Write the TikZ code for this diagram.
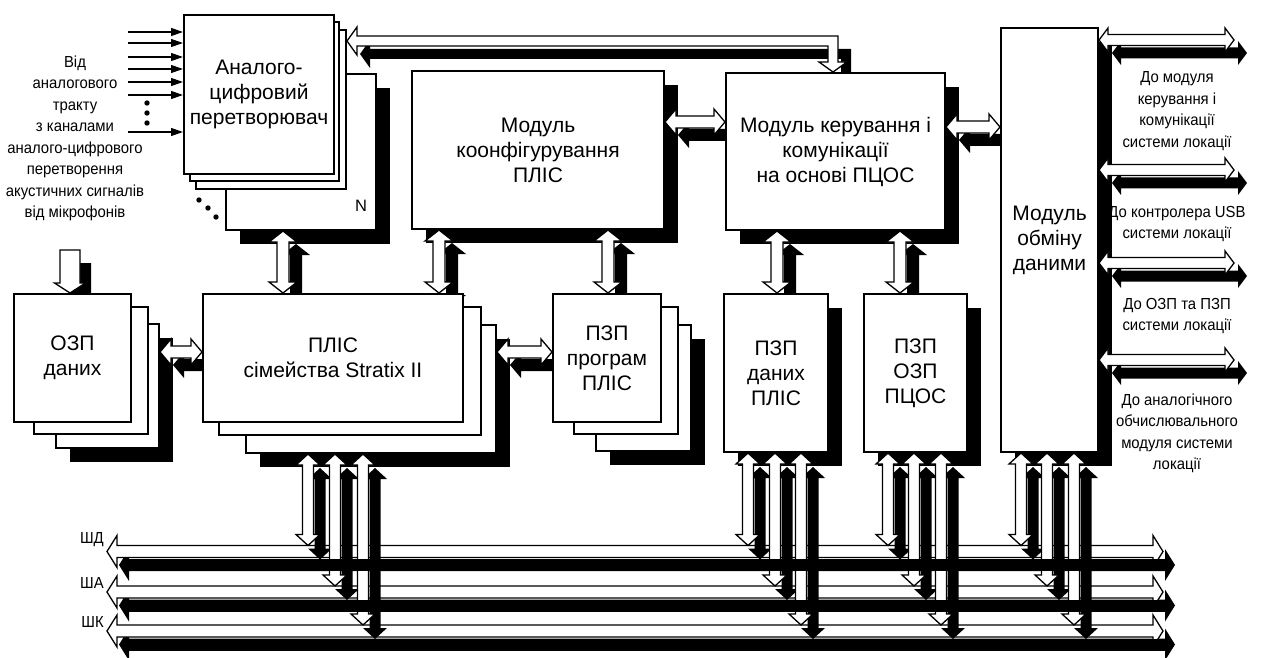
\documentclass[tikz,border=0pt]{standalone}
\usepackage{fontspec}
\setmainfont{Liberation Sans}
\newfontfamily\narrowf[FakeStretch=0.93]{Liberation Sans}
\usetikzlibrary{calc,arrows.meta,shadows}
\pgfdeclarelayer{bg}
\pgfdeclarelayer{fg}
\pgfdeclarelayer{fgtop}
\pgfsetlayers{bg,main,fg,fgtop}

\newcommand\bigf{\fontsize{21}{25}\selectfont}
\newcommand\smf{\narrowf\fontsize{16}{21.5}\selectfont}
\newcommand\onlayer[2]{\begin{pgfonlayer}{#1}#2\end{pgfonlayer}}

% #1 shaft half  #2 head half  #3 head length  #4 tip1  #5 tip2  #6 xoff  #7 yoff  #8 style
\newcommand\HDAp[8]{\path[#8] let \p1=($#4+(#6,#7)$), \p2=($#5+(#6,#7)$) in
 (\x1,\y1) -- ({\x1+#3},{\y1+#2}) -- ({\x1+#3},{\y1+#1}) -- ({\x2-#3},{\y1+#1})
 -- ({\x2-#3},{\y1+#2}) -- (\x2,\y1) -- ({\x2-#3},{\y1-#2}) -- ({\x2-#3},{\y1-#1})
 -- ({\x1+#3},{\y1-#1}) -- ({\x1+#3},{\y1-#2}) -- cycle;}
\newcommand\VDAp[8]{\path[#8] let \p1=($#4+(#6,#7)$), \p2=($#5+(#6,#7)$) in
 (\x1,\y1) -- ({\x1+#2},{\y1-#3}) -- ({\x1+#1},{\y1-#3}) -- ({\x1+#1},{\y2+#3})
 -- ({\x1+#2},{\y2+#3}) -- (\x1,\y2) -- ({\x1-#2},{\y2+#3}) -- ({\x1-#1},{\y2+#3})
 -- ({\x1-#1},{\y1-#3}) -- ({\x1-#2},{\y1-#3}) -- cycle;}
\newcommand\SDAp[8]{\path[#8] let \p1=($#4+(#6,#7)$), \p2=($#5+(#6,#7)$) in
 ({\x1-#1},\y1) -- ({\x1+#1},\y1) -- ({\x1+#1},{\y2+#3}) -- ({\x1+#2},{\y2+#3})
 -- (\x1,\y2) -- ({\x1-#2},{\y2+#3}) -- ({\x1-#1},{\y2+#3}) -- cycle;}
\newcommand\LDAp[8]{\path[#8] let \p1=($#4+(#6,#7)$), \p2=($#5+(#6,#7)$) in
 (\x1,\y1) -- ({\x1+#3},{\y1+#2}) -- ({\x1+#3},{\y1+#1}) -- ({\x2+#1},{\y1+#1})
 -- ({\x2+#1},{\y2+#3}) -- ({\x2+#2},{\y2+#3}) -- (\x2,\y2) -- ({\x2-#2},{\y2+#3})
 -- ({\x2-#1},{\y2+#3}) -- ({\x2-#1},{\y1-#1}) -- ({\x1+#3},{\y1-#1})
 -- ({\x1+#3},{\y1-#2}) -- cycle;}
\newcommand\HDA[5]{\onlayer{bg}{\HDAp{#1}{#2}{#3}{#4}{#5}{13pt}{-13pt}{shd}}\onlayer{fg}{\HDAp{#1}{#2}{#3}{#4}{#5}{0pt}{0pt}{wht}}}
\newcommand\VDA[5]{\onlayer{bg}{\VDAp{#1}{#2}{#3}{#4}{#5}{13pt}{-13pt}{shd}}\onlayer{fg}{\VDAp{#1}{#2}{#3}{#4}{#5}{0pt}{0pt}{wht}}}

\begin{document}
\begin{tikzpicture}[x=1pt,y=-1pt,
  shd/.style={fill=black},
  wht/.style={fill=white,draw=black,line width=1.3pt},
  box/.style={draw,line width=2pt,fill=white,inner sep=0pt,anchor=north west,align=center,font=\bigf},
  boxsh/.style={box,drop shadow={shadow xshift=14pt,shadow yshift=-14pt,fill=black,opacity=1}},
  note/.style={align=center,font=\smf,inner sep=0pt},
  inarr/.style={line width=1.2pt,-{Triangle[length=12pt,width=8pt]}}]
\useasboundingbox (0,0) rectangle (1267,658);
\onlayer{bg}{\fill[white] (0,0) rectangle (1267,658);}

% ---------- boxes ----------
\node[boxsh,minimum width=150pt,minimum height=156pt] (adcN) at (225,73) {};
\node[font=\fontsize{16.5}{20}\selectfont] (nlab) at (361,206) {N};
\node[box,minimum width=150pt,minimum height=159pt] (adc3) at (195,29) {};
\node[box,minimum width=149pt,minimum height=159pt] (adc2) at (189,21) {};
\node[box,minimum width=150pt,minimum height=159pt] (adc1) at (183,14) {Аналого-\\цифровий\\перетворювач};

\node[boxsh,minimum width=252pt,minimum height=158pt] (cfg) at (411,70) {Модуль\\коонфігурування\\ПЛІС};
\node[boxsh,minimum width=219pt,minimum height=157pt] (ctl) at (725,72) {Модуль керування і\\комунікації\\на основі ПЦОС};
\node[boxsh,minimum width=97pt,minimum height=424pt] (exch) at (1000,27) {Модуль\\обміну\\даними};

\node[boxsh,minimum width=103pt,minimum height=124pt] (ozp3) at (55,323) {};
\node[box,minimum width=114pt,minimum height=127pt] (ozp2) at (33,306) {};
\node[box,minimum width=117pt,minimum height=128pt] (ozp1) at (13,293) {ОЗП\\даних};

\node[boxsh,minimum width=250pt,minimum height=128pt] (plis3) at (245,324) {};
\node[box,minimum width=262pt,minimum height=128pt] (plis2) at (218,306) {};
\node[box,minimum width=260pt,minimum height=128pt] (plis1) at (202,293) {ПЛІС\\сімейства Stratix II};

\node[boxsh,minimum width=95pt,minimum height=126pt] (pzp3) at (595,324) {};
\node[box,minimum width=104pt,minimum height=127pt] (pzp2) at (573,306) {};
\node[box,minimum width=108pt,minimum height=128pt] (pzp1) at (552,293) {ПЗП\\програм\\ПЛІС};

\node[boxsh,minimum width=104pt,minimum height=158pt] (pzpd) at (723,293) {ПЗП\\даних\\ПЛІС};
\node[boxsh,minimum width=103pt,minimum height=158pt] (pzpo) at (863,293) {ПЗП\\ОЗП\\ПЦОС};

% ---------- texts ----------
\node[note] (src) at (75,138.5) {Від\\аналогового\\тракту\\з каналами\\аналого-цифрового\\перетворення\\акустичних сигналів\\від мікрофонів};
\node[note] (t1) at (1177,111) {До модуля\\керування і\\комунікації\\системи локації};
\node[note] (t2) at (1177,224) {До контролера USB\\системи локації};
\node[note] (t3) at (1177,316) {До ОЗП та ПЗП\\системи локації};
\node[note] (t4) at (1177,433.5) {До аналогічного\\обчислювального\\модуля системи\\локації};
\node[note,anchor=east] (lD) at (104,540) {ШД};
\node[note,anchor=east] (lA) at (104,583) {ША};
\node[note,anchor=east] (lK) at (104,622) {ШК};

% ---------- dots and inputs ----------
\foreach \dx/\dy in {199/200,208/208,216/217,147/103,147/113,147/123}
  \fill (\dx,\dy) circle[radius=2.7pt];
\foreach \yy [count=\i] in {32,43,57,69,82,95,132}{
  \coordinate (in\i) at (128,\yy);
  \draw[inarr] (in\i) -- (in\i -| adc1.west);}

% ---------- rails ----------
\coordinate (xa) at (283,0); \coordinate (xb) at (439,0); \coordinate (xc) at (608,0);
\coordinate (xd) at (777,0); \coordinate (xe) at (900,0); \coordinate (xo) at (70,0);
\coordinate (xl) at (833,0);
\coordinate (ya) at (0,352); \coordinate (yb) at (0,122); \coordinate (yc) at (0,127);
\coordinate (yl) at (0,41);
\coordinate (r1) at (0,40); \coordinate (r2) at (0,170); \coordinate (r3) at (0,263); \coordinate (r4) at (0,360);
\coordinate (re1) at (1234,40); \coordinate (re2) at (1234,170); \coordinate (re3) at (1234,263); \coordinate (re4) at (1234,360);
\coordinate (ozin) at (70,250);
\coordinate (b1L) at (107,551.5); \coordinate (b1R) at (1163,551.5);
\coordinate (b2L) at (107,592); \coordinate (b2R) at (1163,592);
\coordinate (b3L) at (107,631); \coordinate (b3R) at (1163,631);
\coordinate (b1T) at (0,545.5); \coordinate (b2T) at (0,586); \coordinate (b3T) at (0,625);
\coordinate (vp1) at (308,0); \coordinate (vp2) at (335,0); \coordinate (vp3) at (363,0);
\coordinate (vd1) at (748,0); \coordinate (vd2) at (775,0); \coordinate (vd3) at (801,0);
\coordinate (vo1) at (888,0); \coordinate (vo2) at (914,0); \coordinate (vo3) at (941,0);
\coordinate (ve1) at (1021,0); \coordinate (ve2) at (1047,0); \coordinate (ve3) at (1074,0);

% ---------- block arrows ----------
\onlayer{bg}{\LDAp{5pt}{14pt}{10pt}{(yl -| adc3.east)}{(xl |- ctl.north)}{13pt}{-13pt}{shd}}
\onlayer{fg}{\LDAp{5pt}{14pt}{10pt}{(yl -| adc3.east)}{(xl |- ctl.north)}{0pt}{0pt}{wht}}
\onlayer{bg}{\SDAp{10pt}{15.5pt}{10pt}{(ozin)}{(xo |- ozp1.north)}{11pt}{-13pt}{shd}}
\onlayer{fg}{\SDAp{10pt}{15.5pt}{10pt}{(ozin)}{(xo |- ozp1.north)}{0pt}{0pt}{wht}}

\HDA{6pt}{13pt}{11pt}{(yb -| cfg.east)}{(yb -| ctl.west)}
\HDA{6pt}{13pt}{11pt}{(yc -| ctl.east)}{(yc -| exch.west)}
\HDA{6pt}{13pt}{11pt}{(ya -| ozp3.east)}{(ya -| plis1.west)}
\HDA{6pt}{13pt}{11pt}{(ya -| plis3.east)}{(ya -| pzp1.west)}
\foreach \rr in {1,2,3,4}{\HDA{5.5pt}{12pt}{9pt}{(r\rr -| exch.east)}{(re\rr)}}

\VDA{6pt}{14pt}{11pt}{(xa |- adcN.south)}{(xa |- plis1.north)}
\VDA{6pt}{14pt}{11pt}{(xb |- cfg.south)}{(xb |- plis1.north)}
\VDA{6pt}{14pt}{11pt}{(xc |- cfg.south)}{(xc |- pzp1.north)}
\VDA{6pt}{14pt}{11pt}{(xd |- ctl.south)}{(xd |- pzpd.north)}
\VDA{6pt}{14pt}{11pt}{(xe |- ctl.south)}{(xe |- pzpo.north)}

% ---------- buses ----------
\foreach \bl/\br in {b1L/b1R,b2L/b2R,b3L/b3R}{
  \onlayer{bg}{\HDAp{6pt}{16pt}{10pt}{(\bl)}{(\br)}{12pt}{-13.5pt}{shd}}
  \onlayer{fg}{\HDAp{6pt}{16pt}{10pt}{(\bl)}{(\br)}{0pt}{0pt}{wht}}
  \onlayer{fgtop}{\path[shd] let \p1=($(\bl)+(12pt,-13.5pt)$), \p2=($(\br)+(12pt,-13.5pt)$) in
     ({\x1+10pt},{\y1+6pt}) rectangle ({\x2-10pt},{\y1-6pt});}}
\foreach \qx/\qt/\qb in {vp1/plis3/b1T,vp2/plis3/b2T,vp3/plis3/b3T,vd1/pzpd/b1T,vd2/pzpd/b2T,vd3/pzpd/b3T,
   vo1/pzpo/b1T,vo2/pzpo/b2T,vo3/pzpo/b3T,ve1/exch/b1T,ve2/exch/b2T,ve3/exch/b3T}
  {\onlayer{fg}{\VDAp{5.5pt}{12pt}{11pt}{(\qx |- \qt.south)}{(\qx |- \qb)}{12pt}{-14pt}{shd}}}
\foreach \qx/\qt/\qb in {vp1/plis3/b1T,vp2/plis3/b2T,vp3/plis3/b3T,vd1/pzpd/b1T,vd2/pzpd/b2T,vd3/pzpd/b3T,
   vo1/pzpo/b1T,vo2/pzpo/b2T,vo3/pzpo/b3T,ve1/exch/b1T,ve2/exch/b2T,ve3/exch/b3T}
  {\onlayer{fg}{\VDAp{5.5pt}{12pt}{11pt}{(\qx |- \qt.south)}{(\qx |- \qb)}{0pt}{0pt}{wht}}}
\end{tikzpicture}
\end{document}
